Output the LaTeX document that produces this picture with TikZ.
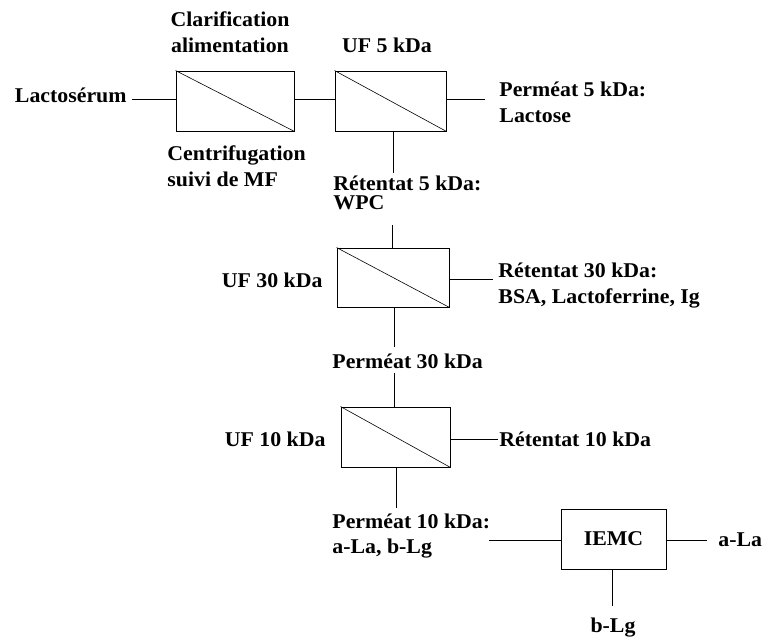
\documentclass[tikz,border=0pt]{standalone}
\usepackage{fontspec}
\setmainfont{Liberation Serif}[FakeStretch=1.04]
\begin{document}
\begin{tikzpicture}[x=1pt,y=-1pt, line width=0.9pt,
  lbl/.style={font=\fontsize{21}{26}\selectfont\bfseries, inner sep=0pt, align=left},
  unitbox/.style={draw, inner sep=0pt, minimum height=60pt},
  diag/.style={line width=0.6pt}]
\useasboundingbox (0,0) rectangle (763,639);
% units
\node[unitbox, minimum width=118pt] (b1) at (235,101) {};
\node[unitbox, minimum width=111pt] (b2) at (390.5,101) {};
\node[unitbox, minimum width=112pt, minimum height=59pt] (b3) at (393,277.5) {};
\node[unitbox, minimum width=109pt] (b4) at (395.5,437) {};
\node[unitbox, minimum width=105pt, font=\fontsize{21}{26}\selectfont\bfseries] (iemc) at (613.5,539) {IEMC};
\foreach \b in {b1,b2,b3,b4} \draw[diag] (\b.north west) -- (\b.south east);
% labels (base anchor of a two-line label = baseline of its last line)
\node[lbl, anchor=base east] (lac) at (127,103) {Lactosérum};
\node[lbl, align=center, anchor=base] (clar) at (230,53) {Clarification\\alimentation};
\node[lbl, anchor=base] (uf5) at (387,53) {UF 5 kDa};
\node[lbl, align=left, anchor=base west] (centr) at (167,187) {Centrifugation\\suivi de MF};
\node[lbl, anchor=base west] (perm5) at (499,123) {Perméat 5 kDa:\\Lactose};
\node[lbl, font=\fontsize{21}{19.5}\selectfont\bfseries, anchor=base west] (ret5) at (333,210) {Rétentat 5 kDa:\\WPC};
\node[lbl, anchor=base east] (uf30) at (323,287) {UF 30 kDa};
\node[lbl, anchor=base west] (ret30) at (498,303) {Rétentat 30 kDa:\\BSA, Lactoferrine, Ig};
\node[lbl, anchor=base west] (perm30) at (332,368) {Perméat 30 kDa};
\node[lbl, anchor=base east] (uf10) at (326,446) {UF 10 kDa};
\node[lbl, anchor=base west] (ret10) at (499,446) {Rétentat 10 kDa};
\node[lbl, font=\fontsize{21}{25}\selectfont\bfseries, anchor=base west] (perm10) at (332,553) {Perméat 10 kDa:\\a-La, b-Lg};
\node[lbl, anchor=base west] (ala) at (718,546) {a-La};
\node[lbl, anchor=base] (blg) at (613,632) {b-Lg};
% free ends of connectors
\coordinate (lacend) at (132,99);
\coordinate (p5end) at (485,99);
\coordinate (b2down) at (393,173);
\coordinate (b3up) at (392,225);
\coordinate (r30end) at (493,279);
\coordinate (b3down) at (394,347);
\coordinate (b4up) at (394,373);
\coordinate (r10end) at (498,439);
\coordinate (b4down) at (396,508);
\coordinate (p10end) at (489,540);
\coordinate (alaend) at (707,540);
\coordinate (blgend) at (612,606);
% connectors
\draw (lacend) -- (b1.west |- lacend);
\draw (b1.east |- lacend) -- (b2.west |- lacend);
\draw (b2.east |- lacend) -- (p5end);
\draw (b2.south -| b2down) -- (b2down);
\draw (b3up) -- (b3.north -| b3up);
\draw (b3.east |- r30end) -- (r30end);
\draw (b3.south -| b3down) -- (b3down);
\draw (b4up) -- (b4.north -| b4up);
\draw (b4.east |- r10end) -- (r10end);
\draw (b4.south -| b4down) -- (b4down);
\draw (p10end) -- (iemc.west |- p10end);
\draw (iemc.east |- alaend) -- (alaend);
\draw (iemc.south -| blgend) -- (blgend);
\end{tikzpicture}
\end{document}
